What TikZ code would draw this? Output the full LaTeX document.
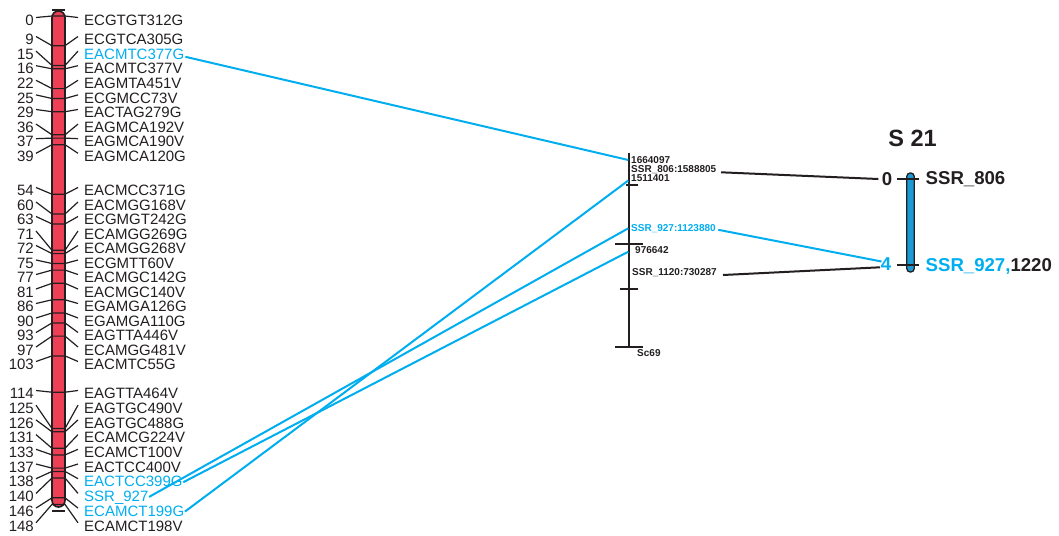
\documentclass[tikz,border=0pt]{standalone}
\usepackage{fontspec}
\setmainfont{Liberation Sans}
\definecolor{chrred}{HTML}{ED4057}
\definecolor{lnk}{HTML}{00AEEF}
\definecolor{chrblue}{HTML}{1B9AD6}
\definecolor{ink}{HTML}{231F20}
\tikzset{
  tickline/.style={draw=ink, line width=1.2pt},
  numlab/.style={anchor=east, inner sep=0pt, text depth=0pt, font=\fontsize{15}{15}\selectfont, text=ink},
  mklab/.style={anchor=west, inner sep=0pt, text depth=0pt, font=\fontsize{15}{15}\selectfont},
  sclab/.style={anchor=west, inner sep=0pt, text depth=0pt, font=\fontsize{10}{10}\selectfont\bfseries, text=ink},
  biglab/.style={inner sep=0pt, text depth=0pt, font=\fontsize{18.6}{18.6}\selectfont\bfseries, text=ink},
  link/.style={draw=lnk, line width=2pt},
  blink/.style={draw=ink, line width=2pt},
  scaf/.style={draw=ink, line width=2.3pt}
}
\begin{document}
\begin{tikzpicture}[x=1pt,y=-1pt]
\useasboundingbox (0,0) rectangle (1059,535);
% left chromosome
\draw[ink, line width=1.6pt, fill=chrred, rounded corners=6.5pt] (52,11) rectangle (65,507);
\draw[ink, line width=1.6pt] (52,10) -- (65,10);
\draw[ink, line width=1.6pt] (52,511) -- (65,511);
\foreach \p/\c/\lab/\col [count=\i] in {
0/20.5/ECGTGT312G/ink,
9/39.5/ECGTCA305G/ink,
15/54.1/EACMTC377G/lnk,
16/68.7/EACMTC377V/ink,
22/83.3/EAGMTA451V/ink,
25/97.9/ECGMCC73V/ink,
29/112.5/EACTAG279G/ink,
36/127.1/EAGMCA192V/ink,
37/141.7/EAGMCA190V/ink,
39/156.3/EAGMCA120G/ink,
54/190.5/EACMCC371G/ink,
60/205/EACMGG168V/ink,
63/219.5/ECGMGT242G/ink,
71/234/ECAMGG269G/ink,
72/248.5/ECAMGG268V/ink,
75/263/ECGMTT60V/ink,
77/277.5/EACMGC142G/ink,
81/292/EACMGC140V/ink,
86/306.5/EGAMGA126G/ink,
90/321/EGAMGA110G/ink,
93/335.5/EAGTTA446V/ink,
97/350/ECAMGG481V/ink,
103/364.5/EACMTC55G/ink,
114/393.5/EAGTTA464V/ink,
125/408.2/EAGTGC490V/ink,
126/422.9/EAGTGC488G/ink,
131/437.6/ECAMCG224V/ink,
133/452.3/ECAMCT100V/ink,
137/467/EACTCC400V/ink,
138/481.7/EACTCC399G/lnk,
140/496.4/SSR\_927/lnk,
146/511.1/ECAMCT199G/lnk,
148/525.8/ECAMCT198V/ink} {
  \pgfmathsetmacro\P{16+3.3*\p}
  \pgfmathsetmacro\A{\c-3}
  \draw[tickline] (36,\A) -- (52,\P) -- (65,\P) -- (78,\A);
  \node[numlab] (n\i) at (34,\c) {\p};
  \node[mklab, text=\col] (m\i) at (84,\c) {\lab};
}
% scaffold Sc69
\draw[scaf] (629,152.5) -- (629,347);
\draw[scaf] (626,185) -- (638,185);
\draw[scaf] (615,244) -- (643,244);
\draw[scaf] (620,289) -- (638,289);
\draw[scaf] (615,347) -- (643,347);
\node[sclab] (s1) at (631,160) {1664097};
\node[sclab] (s2) at (631,168.7) {SSR\_806:1588805};
\node[sclab] (s3) at (631,178.3) {1511401};
\node[sclab, text=lnk] (s4) at (631,228.3) {SSR\_927:1123880};
\node[sclab] (s5) at (635,250) {976642};
\node[sclab] (s6) at (632,272.3) {SSR\_1120:730287};
\node[sclab] (s7) at (637,353.3) {Sc69};
% right linkage group
\node[inner sep=0pt, font=\fontsize{23.5}{23.5}\selectfont\bfseries, text=ink] (title) at (912.5,138.5) {S 21};
\draw[ink, line width=1.3pt, fill=chrblue, rounded corners=3.4pt] (906.8,173) rectangle (914.2,272);
\draw[ink, line width=1.7pt] (897,179) -- (919,179);
\draw[ink, line width=1.7pt] (897,265) -- (919,265);
\node[biglab, anchor=east] (r0) at (892.5,179) {0};
\node[biglab, anchor=east, text=lnk] (r4) at (891.5,264.5) {4};
\node[biglab, anchor=west] (rl1) at (925.5,178.5) {SSR\_806};
\node[biglab, anchor=west] (rl2) at (925.5,265) {\textcolor{lnk}{SSR\_927,}1220};
% connector end points
\coordinate (c1664) at (628.3,160);
\coordinate (c1511) at (628.3,180.5);
\coordinate (c927) at (628.3,228.3);
\coordinate (c9766) at (628.3,251.7);
\coordinate (o806) at (721,172.3);
\coordinate (o927) at (718.3,229.8);
\coordinate (o1120) at (723,275);
\coordinate (q0) at (878.3,179);
\coordinate (q4a) at (881.5,261.5);
\coordinate (q4b) at (880,267.3);
% links left -> scaffold
\draw[link] ([xshift=1pt,yshift=-2.7pt]m3.east) -- (c1664);
\draw[link] ([xshift=0.5pt,yshift=-0.5pt]m30.east) -- (c9766);
\draw[link] ([xshift=0.5pt,yshift=-0.5pt]m31.east) -- (c927);
\draw[link] ([xshift=0.5pt,yshift=-0.5pt]m32.east) -- (c1511);
% links scaffold -> S 21
\draw[blink] (o806) -- (q0);
\draw[link] (o927) -- (q4a);
\draw[blink] (o1120) -- (q4b);
\end{tikzpicture}
\end{document}
